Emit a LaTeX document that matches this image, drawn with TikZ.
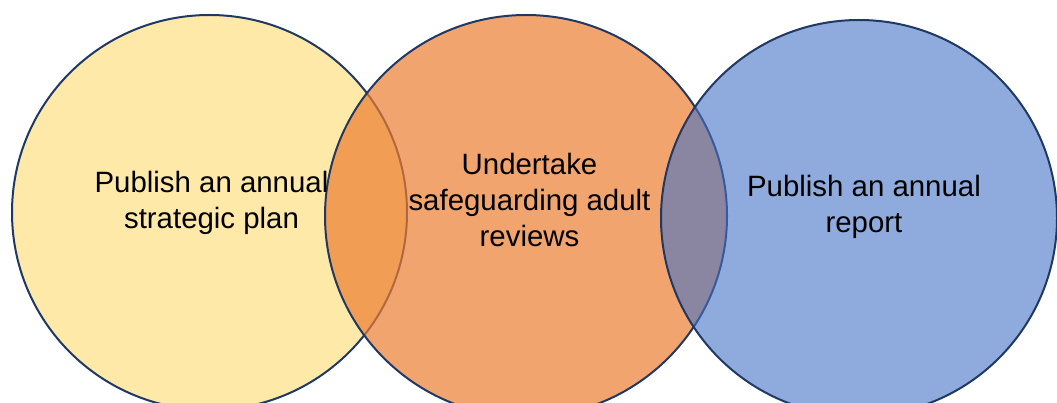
\documentclass[tikz,border=0pt]{standalone}
\usepackage{fontspec}
\setmainfont{Liberation Sans}
\definecolor{ringline}{HTML}{1F3864}
\definecolor{planfill}{HTML}{FFE9A8}
\definecolor{reviewfill}{HTML}{ED7D31}
\definecolor{reportfill}{HTML}{4472C4}
\begin{document}
\begin{tikzpicture}[x=1pt,y=-1pt,
  ring/.style={draw=ringline,line width=2pt},
  ringtext/.style={align=center,inner sep=0pt,font=\fontsize{29.4}{36}\selectfont}]
\useasboundingbox (0,0) rectangle (1057,403);
% the three circles, later ones see-through
\draw [ring,fill=planfill] (209.5,212.5) circle [radius=197.5pt];
\draw [ring,fill=reviewfill,fill opacity=0.7] (526,216) circle [radius=201pt];
\draw [ring,fill=reportfill,fill opacity=0.6] (859,218) circle [radius=198pt];
% texts
\node [ringtext] (plan) at (211.5,203) {Publish an annual\\strategic plan};
\node [ringtext] (reviews) at (529.5,200) {Undertake\\safeguarding adult\\reviews};
\node [ringtext] (report) at (864,207) {Publish an annual\\report};
\end{tikzpicture}
\end{document}
